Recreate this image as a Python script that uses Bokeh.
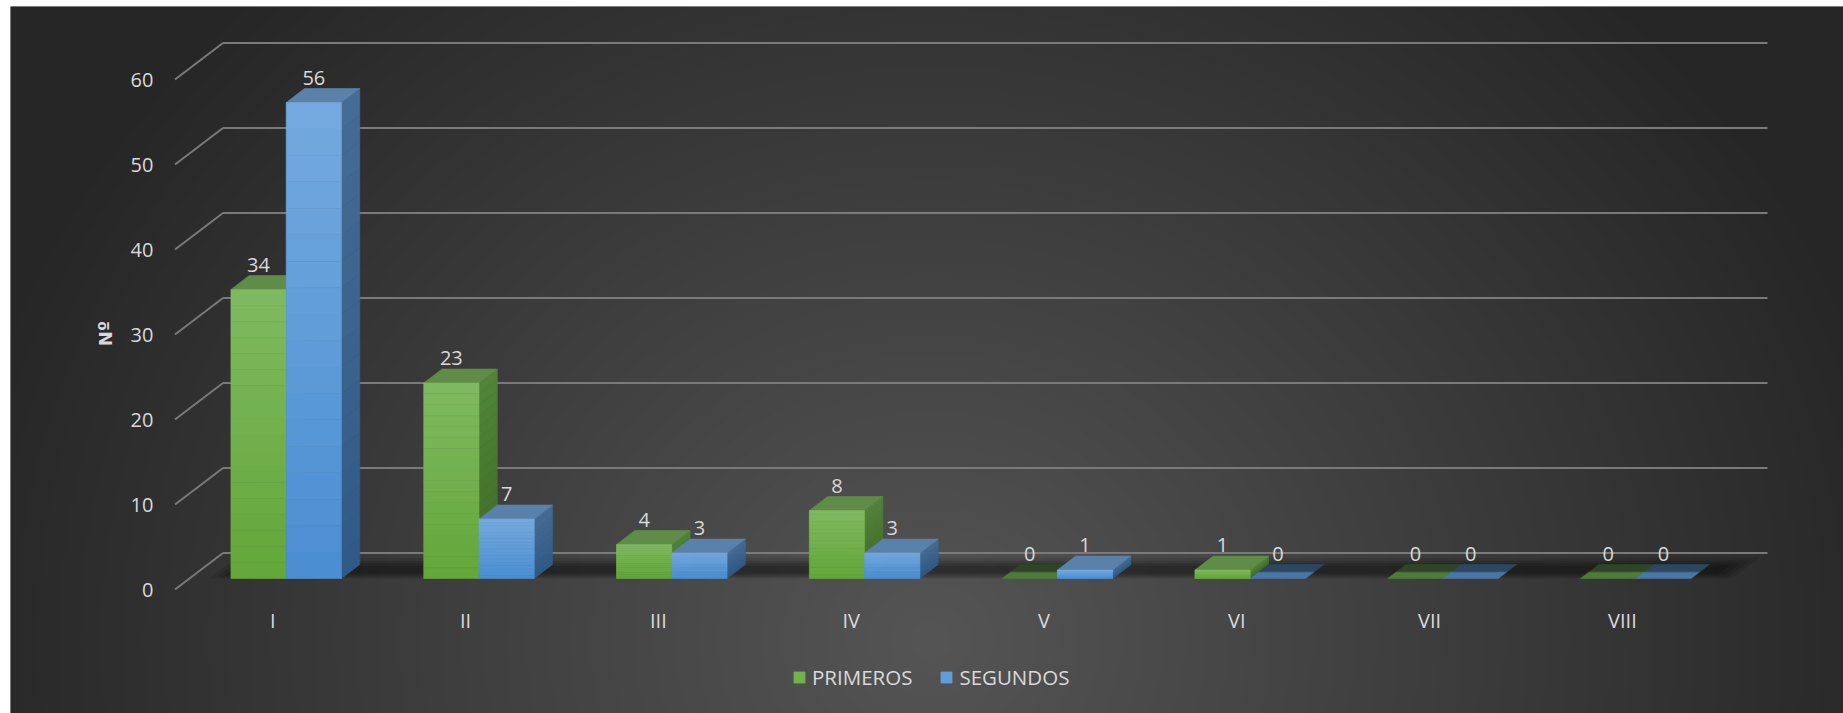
import numpy as np
from bokeh.plotting import figure
from bokeh.models import Range1d, Legend, LegendItem
from bokeh.core.properties import value
from bokeh.embed import file_html
from bokeh.resources import INLINE

# ---------------- data ----------------
categories = ["I", "II", "III", "IV", "V", "VI", "VII", "VIII"]
primeros = [34, 23, 4, 8, 0, 1, 0, 0]
segundos = [56, 7, 3, 3, 1, 0, 0, 0]
y_ticks = [0, 10, 20, 30, 40, 50, 60]
series_names = ["PRIMEROS", "SEGUNDOS"]

# ---------------- layout / style constants ----------------
W, H = 1843, 713
BORDER_L, BORDER_T = 10, 6
PX_PER_X = 192.8      # pixels per category
X0_PX = 285.7         # canvas x of first category centre
PX_PER_V = 8.5        # pixels per value unit
V0_PX = 578.0         # canvas y of value 0 (bar base)

x_start = (BORDER_L - X0_PX) / PX_PER_X
x_end = (W - X0_PX) / PX_PER_X
y_start = (V0_PX - H) / PX_PER_V
y_end = (V0_PX - BORDER_T) / PX_PER_V

BAR_W = 0.2868        # front face width (category units)
DX = 0.0949           # depth offset x
DY = 1.647            # depth offset y (value units)
FONT = "Open Sans"
TXT = "#d9d9d9"
GRID = "#7a7a7a"

GREEN = dict(front_top="#7fba60", front_bot="#63a639", side_top="#528439",
             side_bot="#3e6c25", top="#5f8c46", zero_back="#2e4626",
             zero_front="#4f7b3a")
BLUE = dict(front_top="#74aadf", front_bot="#4a8ed2", side_top="#466c94",
            side_bot="#305a87", top="#5a81a9", zero_back="#2d4762",
            zero_front="#4a76a2")


def hex2rgb(h):
    h = h.lstrip("#")
    return np.array([int(h[i:i + 2], 16) for i in (0, 2, 4)], dtype=float)


def lerp(c1, c2, t):
    a, b = hex2rgb(c1), hex2rgb(c2)
    c = a + (b - a) * t
    return "#%02x%02x%02x" % tuple(int(round(v)) for v in c)


p = figure(width=W, height=H, x_range=Range1d(x_start, x_end),
           y_range=Range1d(y_start, y_end), toolbar_location=None,
           output_backend="svg", x_axis_location=None, y_axis_location=None,
           min_border_left=BORDER_L, min_border_top=BORDER_T,
           min_border_right=0, min_border_bottom=0,
           border_fill_color="white", background_fill_color="#333333",
           outline_line_color=None)
p.grid.grid_line_color = None

# ---------------- background radial gradient ----------------
GH, GW = 354, 917
jj = np.arange(GW)
ii = np.arange(GH)
px = BORDER_L + (jj + 0.5) * (W - BORDER_L) / GW
py = H - (ii + 0.5) * (H - BORDER_T) / GH
PX, PY = np.meshgrid(px, py)
d = np.sqrt(((PX - 930) / 1000.0) ** 2 + ((PY - 640) / 900.0) ** 2)
d = np.clip(d, 0, 1)
g = (85 - 47 * d).astype(np.uint32)
img = (255 << 24) | (g << 16) | (g << 8) | g
p.image_rgba(image=[img.astype(np.uint32)], x=x_start, y=y_start,
             dw=x_end - x_start, dh=y_end - y_start)

# ---------------- walls: gridlines and diagonal ticks ----------------
FRONT_X, BACK_X, GRID_END = -0.5767, -0.3278, 7.683
FRONT_DV, BACK_DV = -1.3, 3.0
p.segment(x0=[BACK_X] * len(y_ticks), x1=[GRID_END] * len(y_ticks),
          y0=[t + BACK_DV for t in y_ticks], y1=[t + BACK_DV for t in y_ticks],
          line_color=GRID, line_width=2)
p.segment(x0=[FRONT_X] * len(y_ticks), x1=[BACK_X] * len(y_ticks),
          y0=[t + FRONT_DV for t in y_ticks], y1=[t + BACK_DV for t in y_ticks],
          line_color=GRID, line_width=2)

# ---------------- floor shadow (soft) ----------------
slope = DX / DY
fl_l, fl_r = -0.40, 7.50
for (b, t, a, ext) in [(0.0, 2.45, 0.10, 0.0), (0.15, 2.1, 0.12, 0.03),
                       (0.35, 1.8, 0.14, 0.06), (0.55, 1.5, 0.14, 0.10)]:
    p.patch(x=[fl_l + ext + b * slope, fl_r - ext + b * slope,
               fl_r - ext + t * slope, fl_l + ext + t * slope],
            y=[b, b, t, t], fill_color="black", fill_alpha=a, line_color=None)

# ---------------- 3D bars ----------------
N = 18


def draw_series(vals, offset, col):
    fx0, fx1, fy0, fy1, fc = [], [], [], [], []
    sxs, sys, sc = [], [], []
    txs, tys, tc = [], [], []
    for i, v in enumerate(vals):
        l = i + offset
        r = l + BAR_W
        if v == 0:
            f = 0.45
            txs.append([l + f * DX, r + f * DX, r + DX, l + DX])
            tys.append([f * DY, f * DY, DY, DY])
            tc.append(col["zero_back"])
            txs.append([l, r, r + f * DX, l + f * DX])
            tys.append([0, 0, f * DY, f * DY])
            tc.append(col["zero_front"])
            continue
        for k in range(N):
            b = v * k / N
            t = v * (k + 1) / N
            tt = (k + 0.5) / N
            fx0.append(l); fx1.append(r); fy0.append(b); fy1.append(t)
            fc.append(lerp(col["front_bot"], col["front_top"], tt))
            sxs.append([r, r + DX, r + DX, r])
            sys.append([b, b + DY, t + DY, t])
            sc.append(lerp(col["side_bot"], col["side_top"], tt))
        txs.append([l, r, r + DX, l + DX])
        tys.append([v, v, v + DY, v + DY])
        tc.append(col["top"])
    p.patches(xs=sxs, ys=sys, fill_color=sc, line_color=sc, line_width=0.6)
    p.patches(xs=txs, ys=tys, fill_color=tc, line_color=tc, line_width=0.6)
    return p.quad(left=fx0, right=fx1, bottom=fy0, top=fy1, fill_color=fc,
                  line_color=fc, line_width=0.6)


rg = draw_series(primeros, -BAR_W, GREEN)
rb = draw_series(segundos, 0.0, BLUE)

# ---------------- value labels ----------------
n = len(categories)
lab_x = [i - BAR_W / 2 for i in range(n)] + [i + BAR_W / 2 for i in range(n)]
lab_y = [v + DY + 1.27 for v in primeros] + [v + DY + 1.27 for v in segundos]
lab_t = [str(v) for v in primeros] + [str(v) for v in segundos]
p.text(x=lab_x, y=lab_y, text=lab_t, text_align="center", text_baseline="middle",
       text_font=value(FONT), text_font_size="20px", text_color=TXT)

# ---------------- category labels ----------------
p.text(x=[i - 0.0695 for i in range(n)], y=[-4.94] * n, text=categories,
       text_align="center", text_baseline="middle", text_font=value(FONT),
       text_font_size="20px", text_color=TXT)

# ---------------- y tick labels ----------------
p.text(x=[-0.6883] * len(y_ticks), y=[t + FRONT_DV for t in y_ticks],
       text=[str(t) for t in y_ticks], text_align="right", text_baseline="middle",
       text_font=value(FONT), text_font_size="20px", text_color=TXT)

# ---------------- axis title ----------------
p.text(x=[-0.937], y=[28.82], text=["Nº"], angle=np.pi / 2, text_align="center",
       text_baseline="middle", text_font=value("DejaVu Sans"), text_font_size="18px",
       text_font_style="bold", text_color=TXT)

# ---------------- legend ----------------
legend = Legend(items=[LegendItem(label=series_names[0], renderers=[rg], index=N // 2),
                       LegendItem(label=series_names[1], renderers=[rb], index=N // 2)],
                orientation="horizontal", location=(782, 22),
                glyph_width=14, glyph_height=14, label_standoff=6, spacing=27,
                padding=0, margin=0, border_line_color=None,
                background_fill_alpha=0, label_text_font=FONT,
                label_text_font_size="20.5px", label_text_color=TXT)
p.add_layout(legend)

open("out.html", "w").write(file_html(p, INLINE))
